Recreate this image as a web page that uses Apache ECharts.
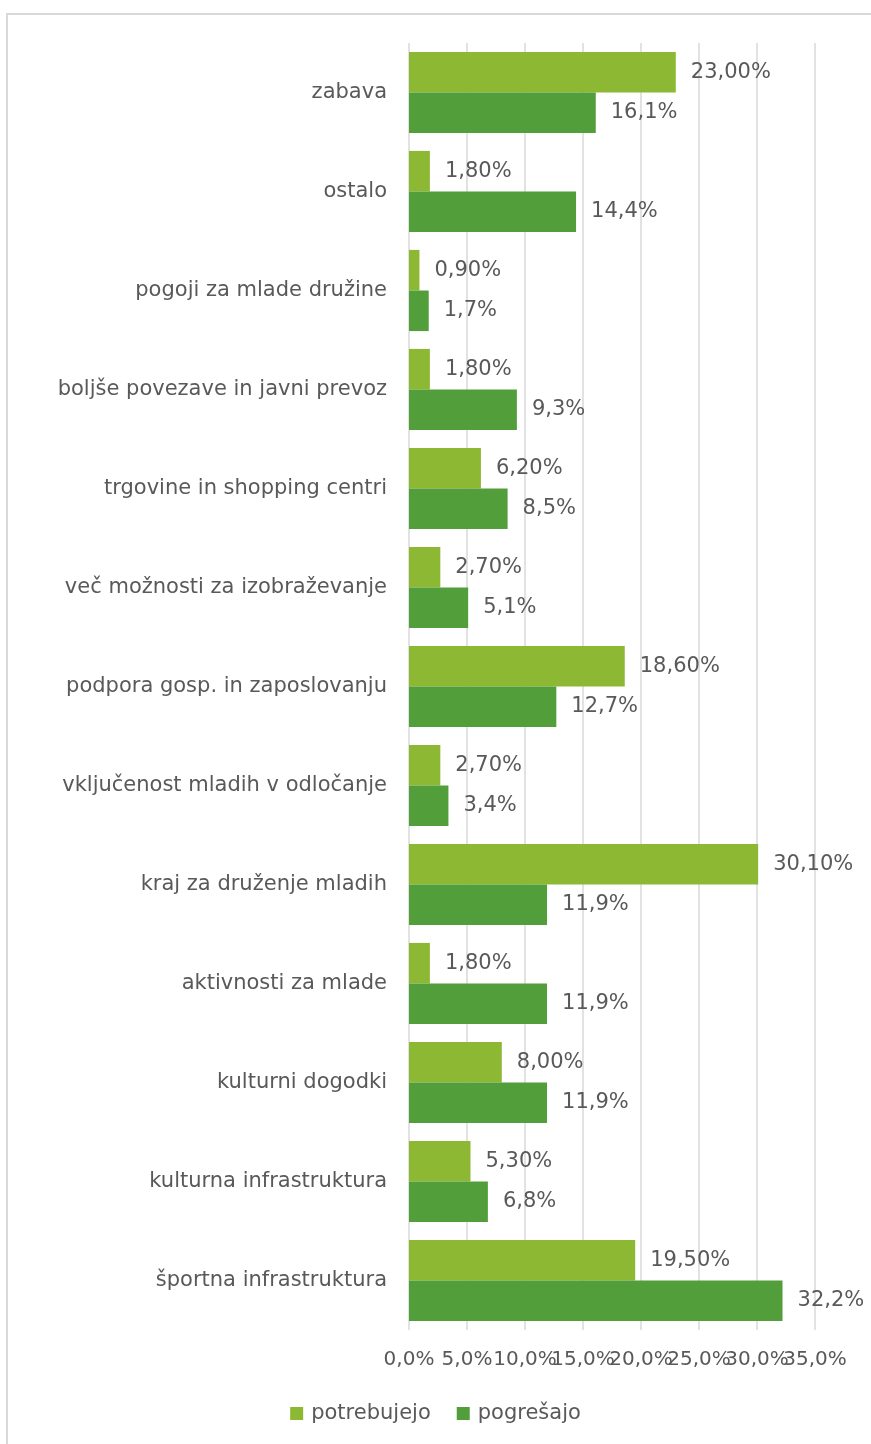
<!DOCTYPE html>
<html><head><meta charset="utf-8">
<script src="https://cdn.jsdelivr.net/npm/echarts@6/dist/echarts.min.js"></script>
<style>html,body{margin:0;padding:0;background:#fff}#c{width:871px;height:1444px}</style>
</head><body><div id="c"></div>
<script>
const categories = ["zabava","ostalo","pogoji za mlade družine","boljše povezave in javni prevoz","trgovine in shopping centri","več možnosti za izobraževanje","podpora gosp. in zaposlovanju","vključenost mladih v odločanje","kraj za druženje mladih","aktivnosti za mlade","kulturni dogodki","kulturna infrastruktura","športna infrastruktura"];
const potrebujejo = [23.0,1.8,0.9,1.8,6.2,2.7,18.6,2.7,30.1,1.8,8.0,5.3,19.5];
const pogresajo = [16.1,14.4,1.7,9.3,8.5,5.1,12.7,3.4,11.9,11.9,11.9,6.8,32.2];
const seriesNames = ["potrebujejo","pogrešajo"];
const tickValues = [0,5,10,15,20,25,30,35];
const tickLabels = ["0,0%","5,0%","10,0%","15,0%","20,0%","25,0%","30,0%","35,0%"];
const tickStep = 5, tickMax = 35;

const FONT = "DejaVu Sans";
const TXT = "#595959";
const chart = echarts.init(document.getElementById('c'), null, {renderer:'canvas'});
const fmt = (v,d) => v.toFixed(d).replace('.', ',') + '%';
const tickFmt = parity => v => {
  const i = tickValues.indexOf(Math.round(v));
  return (i >= 0 && i % 2 === parity) ? tickLabels[i] : '';
};
const axisLabelBase = {margin:20,fontFamily:FONT,fontSize:20,color:TXT,showMinLabel:true,showMaxLabel:true,hideOverlap:false};
chart.setOption({
  animation:false,
  graphic:[{type:'rect',shape:{x:7,y:14,width:880,height:1450},style:{fill:'none',stroke:'#d9d9d9',lineWidth:2}}],
  grid:{left:409,right:56,top:43,bottom:114,containLabel:false},
  legend:{bottom:15,left:'center',itemWidth:13,itemHeight:13,itemGap:26,icon:'rect',
    textStyle:{fontFamily:FONT,fontSize:21,color:TXT,padding:[0,0,0,3]},data:seriesNames},
  xAxis:[
    {type:'value',position:'bottom',min:0,max:tickMax,interval:tickStep,
     axisLine:{show:false},axisTick:{show:false},
     splitLine:{lineStyle:{color:'#d9d9d9',width:1.5}},
     axisLabel:Object.assign({formatter:tickFmt(0)},axisLabelBase)},
    {type:'value',position:'bottom',offset:0,min:0,max:tickMax,interval:tickStep,
     axisLine:{show:false},axisTick:{show:false},splitLine:{show:false},
     axisLabel:Object.assign({formatter:tickFmt(1)},axisLabelBase)}
  ],
  yAxis:{type:'category',inverse:true,data:categories,
    axisLine:{show:false},axisTick:{show:false},
    axisLabel:{margin:22,fontFamily:FONT,fontSize:21,color:TXT}},
  series:[
    {name:seriesNames[0],type:'bar',data:potrebujejo,barCategoryGap:'18%',barGap:'0%',
     itemStyle:{color:'#8cb834'},
     label:{show:true,position:'right',distance:15,fontFamily:FONT,fontSize:21,color:TXT,formatter:p=>fmt(p.value,2)}},
    {name:seriesNames[1],type:'bar',data:pogresajo,barCategoryGap:'18%',barGap:'0%',
     itemStyle:{color:'#529e3a'},
     label:{show:true,position:'right',distance:15,fontFamily:FONT,fontSize:21,color:TXT,formatter:p=>fmt(p.value,1)}}
  ]
});
</script></body></html>
